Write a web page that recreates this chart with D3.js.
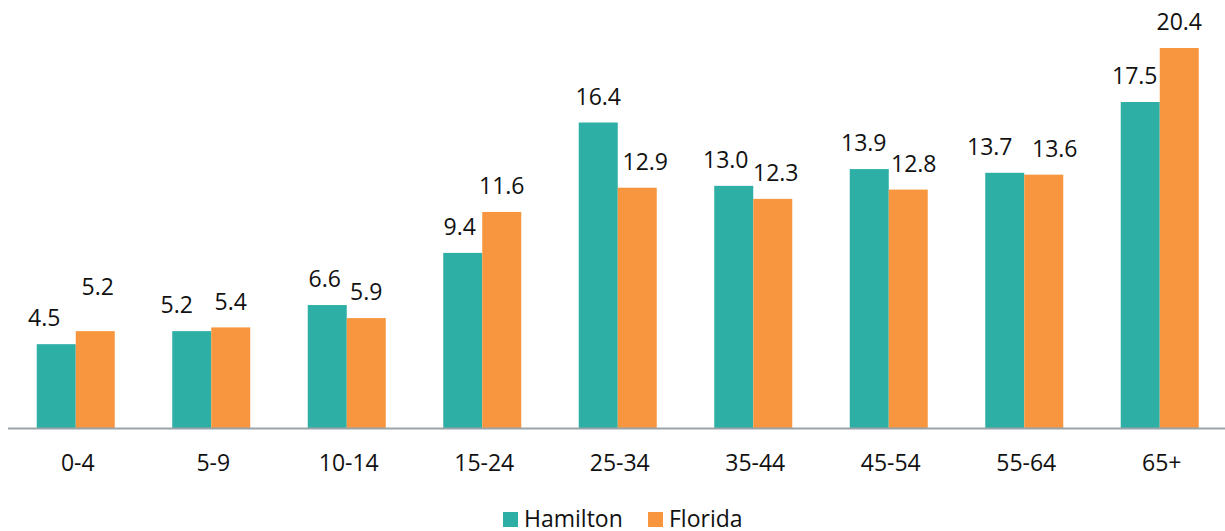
<!DOCTYPE html>
<html>
<head>
<meta charset="utf-8">
<script src="https://cdn.jsdelivr.net/npm/d3@7"></script>
<style>
  html, body { margin: 0; padding: 0; background: #fff; }
  svg { display: block; font-family: "Open Sans", sans-serif; }
</style>
</head>
<body>
<div id="chart"></div>
<script>
// Age distribution (% of population) by age group
const ageGroups = ["0-4", "5-9", "10-14", "15-24", "25-34", "35-44", "45-54", "55-64", "65+"];
const seriesNames = ["Hamilton", "Florida"];
const hamilton = [4.5, 5.2, 6.6, 9.4, 16.4, 13.0, 13.9, 13.7, 17.5];
const florida  = [5.2, 5.4, 5.9, 11.6, 12.9, 12.3, 12.8, 13.6, 20.4];
const seriesColors = ["#2DAFA6", "#F7963F"];

// Small horizontal/vertical nudges so neighbouring value labels don't collide
const labelNudge = {
  Hamilton: { dx: [-12, -15, -2.5, -3, 0, -8, -5.5, -15, -5.5], dy: [0, 0, 0, 0, 0, 0, 0, 0, 0] },
  Florida:  { dx: [2.5, 0, 0, 0, 8, 3, 5.5, 11, 0],            dy: [-18, 0, 0, 0, 0, 0, 0, 0, 0] }
};

const W = 1225, H = 531;
const baseY = 428;

const rows = ageGroups.map((g, i) => ({ group: g, Hamilton: hamilton[i], Florida: florida[i] }));

const svg = d3.select("#chart").append("svg")
  .attr("width", W).attr("height", H);

const x = d3.scaleBand().domain(ageGroups).range([8, 1227.5]).paddingInner(0).paddingOuter(0);
const xs = d3.scaleBand().domain(seriesNames).range([0, x.bandwidth()]).paddingInner(0).paddingOuter(0.737);
const y = d3.scaleLinear().domain([0, 20.4]).range([baseY, 48]);
const color = d3.scaleOrdinal().domain(seriesNames).range(seriesColors);

const groups = svg.append("g").selectAll("g")
  .data(rows).join("g")
  .attr("transform", d => `translate(${x(d.group)},0)`);

groups.selectAll("rect")
  .data(d => seriesNames.map(s => ({ key: s, value: d[s] })))
  .join("rect")
  .attr("x", d => xs(d.key))
  .attr("y", d => y(d.value))
  .attr("width", xs.bandwidth())
  .attr("height", d => y(0) - y(d.value))
  .attr("fill", d => color(d.key));

groups.selectAll("text.val")
  .data((d, i) => seriesNames.map(s => ({ key: s, value: d[s], i })))
  .join("text")
  .attr("class", "val")
  .attr("x", d => xs(d.key) + xs.bandwidth() / 2 + labelNudge[d.key].dx[d.i])
  .attr("y", d => y(d.value) - 17.8 + labelNudge[d.key].dy[d.i])
  .attr("text-anchor", "middle")
  .attr("font-size", 23)
  .attr("fill", "#111")
  .text(d => d3.format(".1f")(d.value));

// Category axis
const axis = svg.append("g").attr("transform", `translate(0,${baseY})`)
  .call(d3.axisBottom(x).tickSize(0).tickPadding(0));
axis.select(".domain").remove();
axis.selectAll("text")
  .attr("y", 43.2)
  .attr("dy", null)
  .attr("dx", 2)
  .attr("font-size", 23)
  .attr("font-family", "Open Sans, sans-serif")
  .attr("fill", "#111");

svg.append("line")
  .attr("x1", 8).attr("x2", W)
  .attr("y1", baseY + 0.5).attr("y2", baseY + 0.5)
  .attr("stroke", "#9AA4A8").attr("stroke-width", 2);

// Legend
const legendX = [503, 648];
const legend = svg.append("g").selectAll("g")
  .data(seriesNames).join("g")
  .attr("transform", (d, i) => `translate(${legendX[i]},512)`);
legend.append("rect")
  .attr("width", 15).attr("height", 15)
  .attr("fill", d => color(d));
legend.append("text")
  .attr("x", 21).attr("y", 14.7)
  .attr("font-size", 23)
  .attr("fill", "#111")
  .text(d => d);
</script>
</body>
</html>
